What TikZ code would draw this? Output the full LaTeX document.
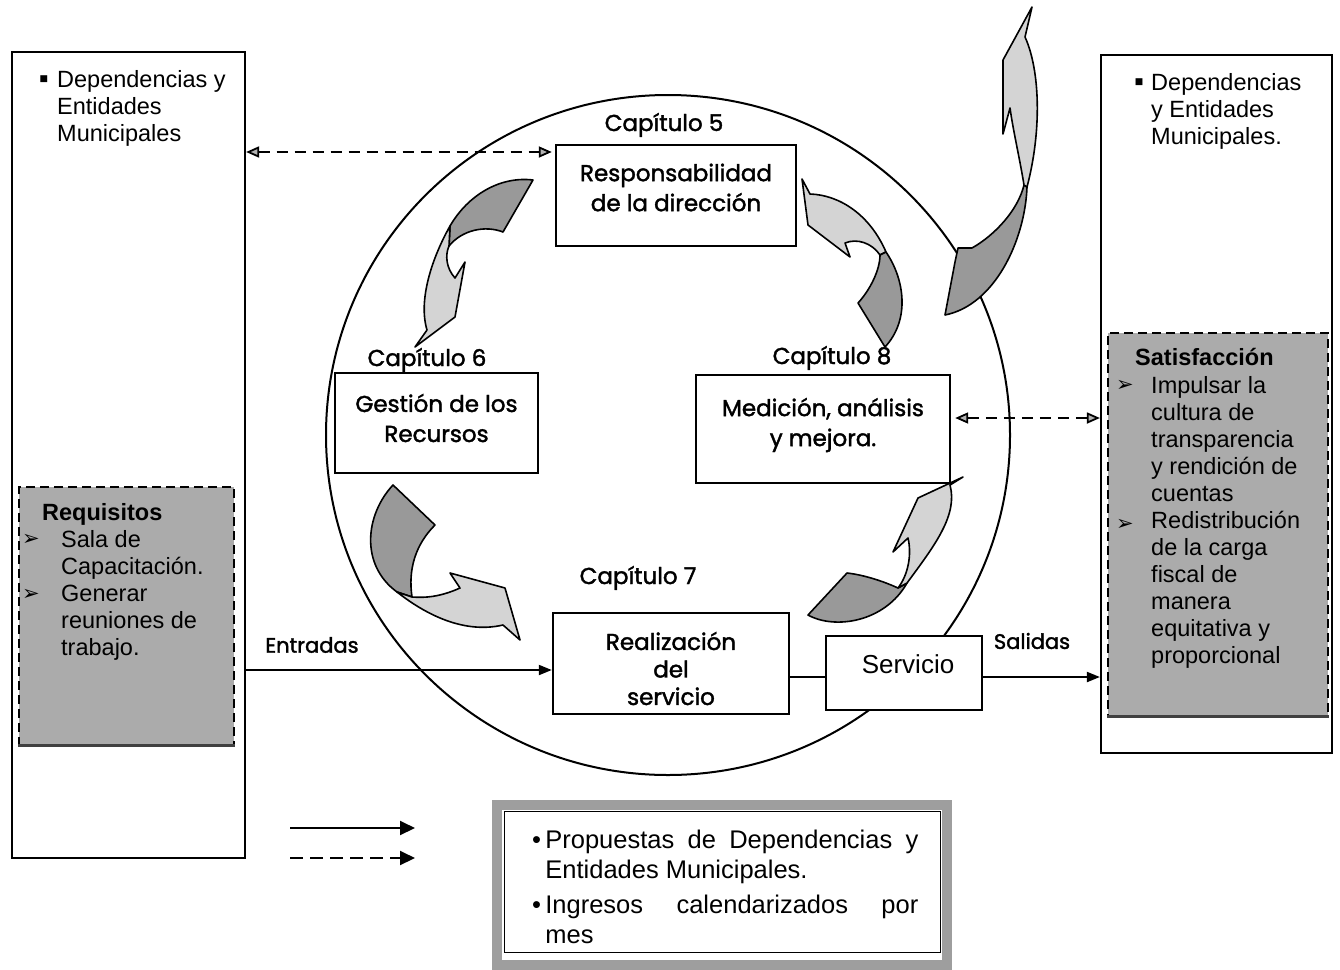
\documentclass[tikz,border=0pt]{standalone}
\usepackage{fontspec}
\usetikzlibrary{arrows.meta}
\setmainfont{Liberation Sans}
\newfontfamily\gothic{Poppins}[FakeBold=1.7]
\newfontfamily\symbolfont{DejaVu Sans}

\begin{document}
\begin{tikzpicture}[x=1pt,y=-1pt,
  frame/.style={draw, line width=2.2pt, fill=white, inner sep=0pt},
  procbox/.style={draw, line width=2.4pt, fill=white, inner sep=0pt},
  boxtext/.style={align=center, inner sep=0pt, font=\gothic\fontsize{23}{30}\selectfont},
  chap/.style={font=\gothic\fontsize{23}{26}\selectfont, inner sep=0pt},
  io/.style={font=\gothic\fontsize{21}{24}\selectfont, inner sep=0pt},
  greybox/.style={draw, dashed, dash pattern=on 9pt off 5pt, line width=1.4pt, fill=black!33, inner sep=0pt},
  plain/.style={font=\fontsize{23.5}{27}\selectfont, align=left, inner sep=0pt},
  flow/.style={line width=2pt, -{Triangle[length=13pt,width=10pt]}},
  link/.style={line width=2pt},
  twoway/.style={line width=1.8pt, dash pattern=on 11pt off 7pt,
    {Triangle[length=13pt,width=11pt,fill=black!30]}-{Triangle[length=13pt,width=11pt,fill=black!30]}},
  lighttone/.style={fill=black!17, draw, line width=1.6pt, line join=round},
  darktone/.style={fill=black!40, draw, line width=1.6pt, line join=round},
  bul/.style={font=\symbolfont\fontsize{21}{21}\selectfont, inner sep=0pt}
]
\useasboundingbox (0,0) rectangle (1340,969);

% ---- outer panels -------------------------------------------------------
\node[frame, minimum width=233, minimum height=806] (leftbox) at (128.5,455) {};
\node[frame, minimum width=231, minimum height=698] (rightbox) at (1216.5,404) {};

% panel headings
\node[bul, font=\symbolfont\fontsize{9}{9}\selectfont] (lbul) at (44,79) {■};
\node[plain, anchor=north west] (ltext) at (57,70) {Dependencias y\\Entidades\\Municipales};
\node[bul, font=\symbolfont\fontsize{9}{9}\selectfont] (rbul) at (1139,82) {■};
\node[plain, anchor=north west] (rtext) at (1151,73) {Dependencias\\y Entidades\\Municipales.};

% ---- grey requirement / satisfaction boxes ------------------------------
\node[greybox, minimum width=215, minimum height=258] (req) at (126.5,616) {};
\draw[line width=3pt, black!75] (req.south west) -- (req.south east);
\node[plain, anchor=north west] (reqtitle) at (42,503) {\textbf{Requisitos}};
\node[bul] (rq1) at (31,540) {➢};
\node[bul] (rq2) at (31,595) {➢};
\node[plain, anchor=north west] (reqtext) at (61,530) {Sala de\\Capacitación.\\Generar\\reuniones de\\trabajo.};

\node[greybox, minimum width=220, minimum height=383] (satis) at (1218,524.5) {};
\draw[line width=3pt, black!75] (satis.south west) -- (satis.south east);
\node[plain, anchor=north west] (sattitle) at (1135,348) {\textbf{Satisfacción}};
\node[bul] (st1) at (1125,386) {➢};
\node[bul] (st2) at (1125,525) {➢};
\node[plain, anchor=north west] (sattext) at (1151,376) {Impulsar la\\cultura de\\transparencia\\y rendición de\\cuentas\\Redistribución\\de la carga\\fiscal de\\manera\\equitativa y\\proporcional};

% ---- the quality circle -------------------------------------------------
\draw[line width=2pt] (668,435) ellipse [x radius=342, y radius=340];

% ---- curved arrow from the big circle out to the top --------------------
\path[darktone] (958,248) -- (972,248) .. controls (995,235) and (1018,210) .. (1024,185)
  -- (1027,187) .. controls (1025,240) and (995,305) .. (945,315) -- (955,262) -- cycle;
\path[lighttone] (1024,185) .. controls (1020,160) and (1013,130) .. (1010,108)
  -- (1003,134) -- (1003,60) -- (1032,7) -- (1025,37)
  .. controls (1040,70) and (1042,130) .. (1027,187) -- cycle;

% ---- process boxes ------------------------------------------------------
\node[chap] (c5) at (664,125) {Capítulo 5};
\node[procbox, minimum width=240, minimum height=101] (resp) at (676,195.5) {};
\node[boxtext] (resptxt) at ([yshift=8pt]resp.center) {Responsabilidad\\de la dirección};
\node[chap] (c6) at (427,360) {Capítulo 6};
\node[procbox, minimum width=203, minimum height=100] (gest) at (436.5,423) {};
\node[boxtext] (gesttxt) at ([yshift=5pt]gest.center) {Gestión de los\\Recursos};
\node[chap] (c8) at (832,358) {Capítulo 8};
\node[procbox, minimum width=254, minimum height=108] (meas) at (823,429) {};
\node[boxtext] (meastxt) at ([yshift=4pt]meas.center) {Medición, análisis\\y mejora.};
\node[chap] (c7) at (638,578) {Capítulo 7};
\node[procbox, minimum width=236, minimum height=101] (real) at (671,663.5) {};
\node[boxtext, font=\gothic\fontsize{23}{27.5}\selectfont] (realtxt) at ([yshift=-5pt]real.center) {Realización\\del\\servicio};
\node[procbox, minimum width=156, minimum height=74] (serv) at (904,673) {};
\node[inner sep=0pt, font=\fontsize{26}{30}\selectfont] (servtxt) at ([xshift=4pt,yshift=9pt]serv.center) {Servicio};

% ---- cycle arrows between the chapters ----------------------------------
% Capitulo 5 -> Capitulo 6
\path[darktone] (533,180) .. controls (500,176) and (468,195) .. (450,226)
  -- (449,246) .. controls (462,230) and (485,225) .. (503,232) -- cycle;
\path[lighttone] (450,226) .. controls (432,258) and (418,300) .. (427,330)
  -- (415,347) -- (455,317) -- (465,262) -- (455,278)
  .. controls (446,268) and (445,255) .. (449,246) -- cycle;
% Capitulo 6 -> Capitulo 7
\path[darktone] (393,485) .. controls (365,515) and (360,565) .. (397,592)
  -- (412,597) .. controls (408,570) and (415,545) .. (435,525) -- cycle;
\path[lighttone] (397,592) .. controls (420,610) and (460,635) .. (503,625)
  -- (520,640) -- (505,588) -- (450,573) -- (460,588)
  .. controls (440,597) and (425,598) .. (412,597) -- cycle;
% Capitulo 7 -> Capitulo 8
\path[darktone] (847,573) -- (808,615) .. controls (835,630) and (885,622) .. (907,583)
  -- (898,588) .. controls (885,582) and (865,575) .. (847,573) -- cycle;
\path[lighttone] (907,583) .. controls (935,545) and (958,515) .. (950,485)
  -- (963,477) -- (918,498) -- (893,552) -- (908,538)
  .. controls (912,555) and (908,575) .. (898,588) -- cycle;
% Capitulo 8 -> Capitulo 5
\path[lighttone] (802,179) -- (810,194) .. controls (840,195) and (870,215) .. (886,252)
  -- (880,255) .. controls (872,243) and (857,238) .. (845,243)
  -- (850,257) -- (808,225) -- cycle;
\path[darktone] (886,252) .. controls (905,280) and (910,320) .. (885,347)
  -- (858,303) .. controls (870,290) and (880,270) .. (880,255) -- cycle;

% ---- inputs and outputs -------------------------------------------------
\coordinate (iny) at (0,670);
\coordinate (outy) at (0,677);
\draw[flow] (leftbox.east |- iny) -- (real.west |- iny);
\draw[link] (real.east |- outy) -- (serv.west |- outy);
\draw[flow] (serv.east |- outy) -- (rightbox.west |- outy);
\node[io] (entr) at (312,645) {Entradas};
\node[io] (sal) at (1032,641) {Salidas};

% ---- information exchanges ----------------------------------------------
\coordinate (topy) at (0,152);
\coordinate (midy) at (0,418);
\draw[twoway] (leftbox.east |- topy) -- ([xshift=-3pt]resp.west |- topy);
\draw[twoway] ([xshift=4pt]meas.east |- midy) -- (rightbox.west |- midy);

% ---- legend -------------------------------------------------------------
\coordinate (ls1) at (290,828);
\coordinate (le1) at (415,828);
\coordinate (ls2) at (290,858);
\coordinate (le2) at (415,858);
\draw[line width=2pt, -{Triangle[length=15pt,width=14pt]}] (ls1) -- (le1);
\draw[line width=2pt, dash pattern=on 13pt off 7pt, -{Triangle[length=15pt,width=14pt]}] (ls2) -- (le2);

\node[draw=black!38, line width=10pt, minimum width=450, minimum height=160, inner sep=0pt] (legbox) at (722,885) {};
\draw[line width=1pt] (504,811) rectangle (940,952);
\node[plain, anchor=north west, font=\fontsize{25.5}{30}\selectfont] (legtext) at (532,830)
  {•\,\hbox to 373pt{Propuestas\hfill de\hfill Dependencias\hfill y}\\
   \phantom{•\,}Entidades Municipales.\\[5pt]
   •\,\hbox to 373pt{Ingresos\hfill calendarizados\hfill por}\\
   \phantom{•\,}mes};
\end{tikzpicture}
\end{document}
